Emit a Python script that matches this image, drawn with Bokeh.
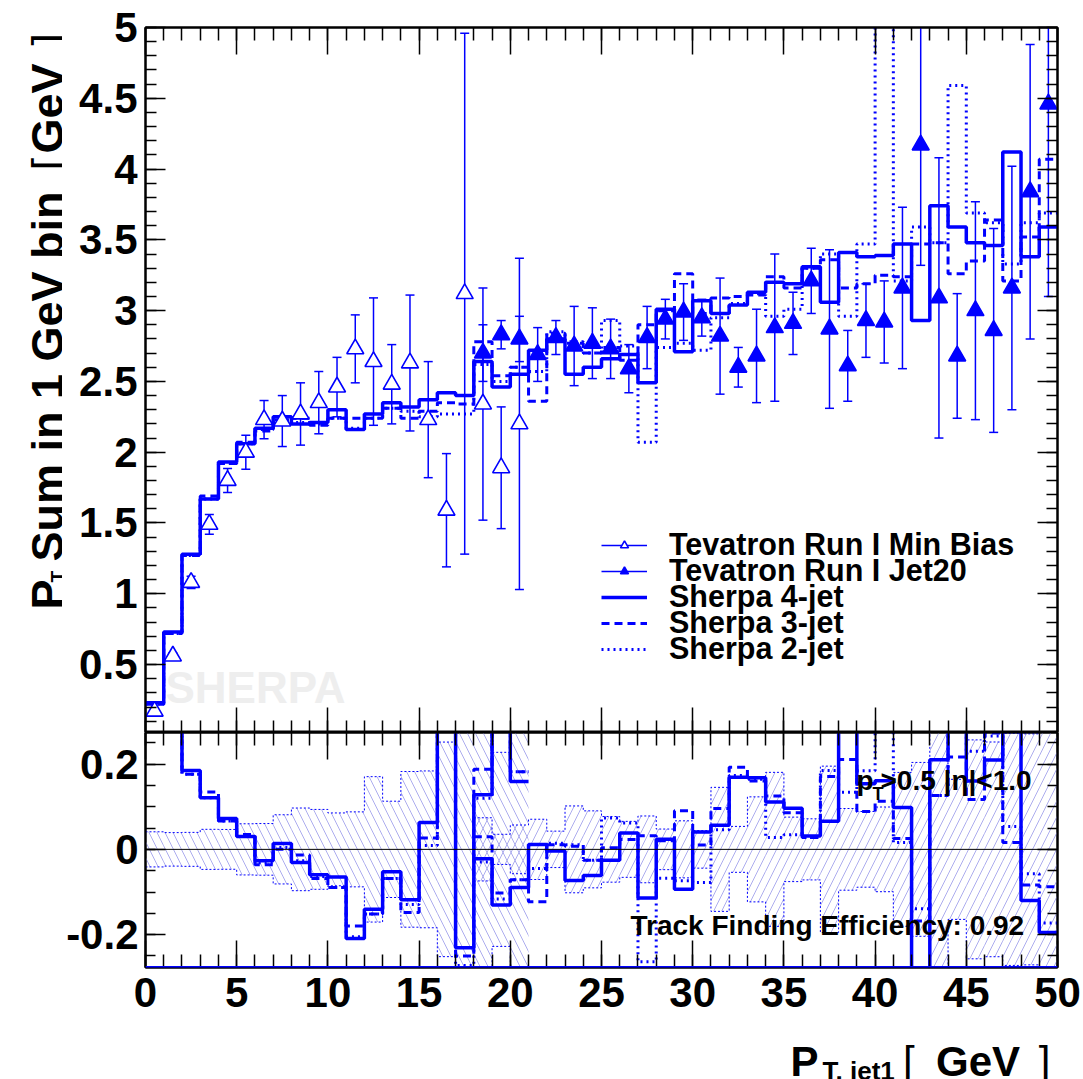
import numpy as np
from bokeh.plotting import figure
from bokeh.models import (ColumnDataSource, LinearAxis, Range1d, FixedTicker,
                          CustomJSTickFormatter, Whisker, TeeHead, Legend, LegendItem,
                          Label, Span)
from bokeh.layouts import column, row
from bokeh.core.properties import value
from bokeh.embed import file_html
from bokeh.resources import INLINE

# ---------------- data ----------------
bin_edges = list(range(0, 51))

minbias_x = [i + 0.5 for i in range(0, 21)]
minbias_y = [0.17, 0.56, 1.08, 1.49, 1.80, 2.00, 2.23, 2.22, 2.27, 2.35,
             2.46, 2.73, 2.64, 2.48, 2.63, 2.23, 1.59, 3.12, 2.34, 1.89, 2.20]
minbias_err = [0.007, 0.022, 0.043, 0.07, 0.084, 0.12, 0.135, 0.18, 0.22, 0.22,
               0.21, 0.24, 0.45, 0.28, 0.48, 0.41, 0.40, 1.84, 0.82, 0.43, 1.17]

jet20_x = [i + 0.5 for i in range(18, 50)]
jet20_y = [2.70, 2.83, 2.80, 2.69, 2.81, 2.75, 2.77, 2.73, 2.59, 2.81,
           2.94, 2.99, 2.95, 2.82, 2.60, 2.68, 2.88, 2.91, 3.21, 2.87,
           2.61, 2.93, 2.92, 3.16, 4.17, 3.09, 2.68, 3.00, 2.86, 3.16,
           3.84, 4.46]
jet20_err = [0.20, 0.10, 0.16, 0.19, 0.12, 0.28, 0.25, 0.21, 0.17, 0.22,
             0.14, 0.20, 0.13, 0.41, 0.14, 0.33, 0.52, 0.22, 0.23, 0.56,
             0.25, 0.26, 0.29, 0.57, 0.85, 0.99, 0.44, 0.77, 0.72, 0.86,
             1.04, 1.36]

sherpa4 = [0.23, 0.73, 1.28, 1.67, 1.93, 2.06, 2.17, 2.25, 2.20, 2.21,
           2.30, 2.16, 2.27, 2.35, 2.32, 2.37, 2.42, 2.40, 2.64, 2.46,
           2.55, 2.72, 2.80, 2.55, 2.60, 2.66, 2.69, 2.49, 3.01, 2.71,
           3.07, 2.98, 3.04, 3.13, 3.20, 3.19, 3.31, 3.06, 3.41, 3.38,
           3.39, 3.47, 2.93, 3.74, 3.59, 3.48, 3.46, 4.12, 3.38, 3.59]
sherpa3 = [0.22, 0.72, 1.27, 1.69, 1.92, 2.07, 2.15, 2.22, 2.24, 2.19,
           2.24, 2.24, 2.24, 2.31, 2.24, 2.29, 2.35, 2.34, 2.78, 2.54,
           2.60, 2.36, 2.84, 2.77, 2.70, 2.74, 2.65, 2.90, 3.00, 3.26,
           2.98, 3.09, 3.10, 3.11, 3.24, 3.16, 3.30, 3.36, 3.16, 3.19,
           3.25, 3.24, 3.47, 3.48, 3.26, 3.35, 3.64, 3.21, 3.52, 4.07]
sherpa2 = [0.22, 0.72, 1.27, 1.67, 1.92, 2.06, 2.16, 2.23, 2.21, 2.20,
           2.24, 2.17, 2.24, 2.31, 2.29, 2.25, 2.27, 2.27, 2.62, 2.50,
           2.60, 2.57, 2.85, 2.78, 2.70, 2.93, 2.75, 2.07, 2.74, 2.77,
           2.72, 2.95, 3.05, 3.12, 2.96, 3.01, 3.30, 3.40, 2.96, 3.47,
           5.60, 3.21, 3.59, 3.48, 4.59, 3.69, 3.62, 3.33, 3.62, 3.69]

x_ticks = [0, 5, 10, 15, 20, 25, 30, 35, 40, 45, 50]
y_ticks_main = [0.5, 1, 1.5, 2, 2.5, 3, 3.5, 4, 4.5, 5]
y_ticks_ratio = [-0.2, 0, 0.2]

series_labels = ["Tevatron Run I Min Bias", "Tevatron Run I Jet20",
                 "Sherpa 4-jet", "Sherpa 3-jet", "Sherpa 2-jet"]

# ---------------- style ----------------
FONT = "Liberation Sans"
BLUE = "#0000ff"
HATCH = "#a4a4ec"

edges = np.array(bin_edges, dtype=float)
mb_y = np.array(minbias_y); mb_e = np.array(minbias_err)
jt_y = np.array(jet20_y); jt_e = np.array(jet20_err)
mc = {"4": np.array(sherpa4), "3": np.array(sherpa3), "2": np.array(sherpa2)}
mc_style = {"4": dict(line_width=3.5, line_dash="solid"),
            "3": dict(line_width=3, line_dash="8 5"),
            "2": dict(line_width=3, line_dash="2 4")}

n_mb = len(minbias_y)
jt_first = int(jet20_x[0] - 0.5)


def steps(e, v):
    return np.repeat(e, 2)[1:-1], np.repeat(v, 2)


fmt = CustomJSTickFormatter(code="return String(Math.round(tick*100)/100)")


def add_axis(fig, side, ticks, minor, t_in, m_in, labels, standoff=8):
    ax = LinearAxis(ticker=FixedTicker(ticks=ticks, minor_ticks=minor),
                    formatter=fmt,
                    axis_line_color="black", axis_line_width=2,
                    major_tick_line_color="black", major_tick_line_width=1.5,
                    minor_tick_line_color="black", minor_tick_line_width=1.5,
                    major_tick_in=t_in, major_tick_out=0,
                    minor_tick_in=m_in, minor_tick_out=0)
    if labels:
        ax.major_label_text_font = FONT
        ax.major_label_text_font_style = "bold"
        ax.major_label_text_font_size = "42px"
        ax.major_label_text_color = "black"
        ax.major_label_standoff = standoff
    else:
        ax.major_label_text_font_size = "0px"
        ax.major_label_standoff = 0
    fig.add_layout(ax, side)


def style_fig(fig):
    fig.grid.visible = False
    fig.outline_line_color = "black"
    fig.outline_line_width = 2
    fig.background_fill_color = "white"
    fig.border_fill_color = "white"


x_minor = list(range(0, 51))
y_minor_main = [round(0.1 * k, 2) for k in range(1, 51)]
y_minor_ratio = [round(-0.25 + 0.05 * k, 2) for k in range(0, 11)]

LEFT = 83  # left border of the two panels (title strip is 62 px wide)

# ---------------- main panel ----------------
p1 = figure(frame_width=912, frame_height=705, x_range=Range1d(0, 50), y_range=Range1d(0.02, 5),
            output_backend="svg", toolbar_location=None,
            x_axis_location=None, y_axis_location=None,
            min_border_left=LEFT, min_border_right=26, min_border_top=27, min_border_bottom=0)
style_fig(p1)

add_axis(p1, "left", y_ticks_main, y_minor_main, 20, 11, True, 8)
add_axis(p1, "right", y_ticks_main, y_minor_main, 20, 11, False)
add_axis(p1, "above", x_ticks, x_minor, 27, 13, False)
add_axis(p1, "below", x_ticks, x_minor, 25, 12, False)

p1.add_layout(Label(x=20, y=21, x_units="screen", y_units="screen", text="SHERPA",
                    text_font=FONT, text_font_style="bold", text_font_size="44px",
                    text_color="#eeeeee"))

mc_r = {}
for k in ["2", "3", "4"]:
    xs, ys = steps(edges, mc[k])
    mc_r[k] = p1.line(xs, ys, line_color=BLUE, **mc_style[k])


def data_series(fig, x, y, e, filled):
    src = ColumnDataSource(dict(x=x, y=y, lo=list(np.array(y) - np.array(e)),
                                hi=list(np.array(y) + np.array(e))))
    seg = fig.segment(x0="x", y0="lo", x1="x", y1="hi", source=src,
                      line_color=BLUE, line_width=1.5)
    fig.add_layout(Whisker(source=src, base="x", upper="hi", lower="lo",
                           dimension="height", line_alpha=0,
                           upper_head=TeeHead(size=9, line_color=BLUE, line_width=1.5),
                           lower_head=TeeHead(size=9, line_color=BLUE, line_width=1.5)))
    sc = fig.scatter("x", "y", source=src, marker="triangle", size=17,
                     line_color=BLUE, line_width=1.6,
                     fill_color=BLUE if filled else "white")
    return seg, sc


mb_seg, mb_sc = data_series(p1, minbias_x, minbias_y, minbias_err, False)
jt_seg, jt_sc = data_series(p1, jet20_x, jet20_y, jet20_err, True)

# legend: one entry per Legend so that the row pitch can be tight (26 px)
legend_entries = [
    (series_labels[0], [mb_seg, mb_sc]),
    (series_labels[1], [jt_seg, jt_sc]),
    (series_labels[2], [mc_r["4"]]),
    (series_labels[3], [mc_r["3"]]),
    (series_labels[4], [mc_r["2"]]),
]
ROW0, PITCH = 170, 26
for i, (lbl, rends) in enumerate(legend_entries):
    p1.add_layout(Legend(
        items=[LegendItem(label=lbl, renderers=rends)],
        location=(456, ROW0 - i * PITCH), orientation="vertical",
        label_text_font=FONT, label_text_font_style="bold", label_text_font_size="30.5px",
        label_text_color="black", label_standoff=22, glyph_width=46, glyph_height=20,
        spacing=0, padding=0, margin=0, border_line_alpha=0, background_fill_alpha=0))

# ---------------- ratio panel ----------------
p2 = figure(frame_width=912, frame_height=235, x_range=p1.x_range, y_range=Range1d(-0.277, 0.274),
            output_backend="svg", toolbar_location=None,
            x_axis_location=None, y_axis_location=None,
            min_border_left=LEFT, min_border_right=26, min_border_top=0, min_border_bottom=62)
style_fig(p2)

add_axis(p2, "left", y_ticks_ratio, y_minor_ratio, 20, 10, True, 7)
add_axis(p2, "right", y_ticks_ratio, y_minor_ratio, 20, 10, False)
add_axis(p2, "above", x_ticks, x_minor, 27, 13, False)
add_axis(p2, "below", x_ticks, x_minor, 27, 13, True, 10)

bands = [
    (edges[0:n_mb + 1], mb_y, mb_e, 0, "left_diagonal_line"),
    (edges[jt_first:jt_first + len(jet20_y) + 1], jt_y, jt_e, jt_first, "right_diagonal_line"),
]
for e, y, err, first, pat in bands:
    rel = err / y
    p2.quad(left=e[:-1], right=e[1:], bottom=-rel, top=rel, fill_color=None,
            line_color=None, hatch_pattern=pat, hatch_color=HATCH,
            hatch_scale=16, hatch_weight=0.9)
    for sgn in (1, -1):
        xs, ys = steps(e, sgn * rel)
        p2.line(xs, ys, line_color=BLUE, line_width=1, line_dash="2 2")

p2.add_layout(Span(location=0, dimension="width", line_color="black", line_width=1))

for e, y, err, first, pat in bands:
    for k in ["2", "3", "4"]:
        m = mc[k][first:first + len(y)]
        xs, ys = steps(e, (m - y) / y)
        p2.line(xs, ys, line_color=BLUE, **mc_style[k])

p2.add_layout(Span(location=p2.y_range.start, dimension="width", line_color=BLUE,
                   line_width=3))


def lab(fig, x, y, text, size, bold=True):
    fig.add_layout(Label(x=x, y=y, x_units="screen", y_units="screen", text=text,
                         text_font=FONT, text_font_style="bold" if bold else "normal",
                         text_font_size=size, text_color="black",
                         text_baseline="alphabetic", text_align="left"))


lab(p2, 485, 42, "Track Finding Efficiency: 0.92", "28px")
lab(p2, 711, 187, "p", "28px")
lab(p2, 727, 174, "T", "18px")
lab(p2, 735, 187, ">0.5 |\u03b7|<1.0", "28px")


# ---------------- axis titles (drawn as text on plain strips) ----------------
def strip(w, h):
    f = figure(width=w, height=h, x_range=Range1d(0, w), y_range=Range1d(0, h),
               output_backend="svg", toolbar_location=None,
               x_axis_location=None, y_axis_location=None, min_border=0)
    f.grid.visible = False
    f.outline_line_color = None
    f.background_fill_color = "white"
    f.border_fill_color = "white"
    return f


def txt(f, x, y, text, size, bold=True, angle=0.0):
    f.text(x=[x], y=[y], text=[text], angle=angle, text_font=value(FONT),
           text_font_size=size, text_font_style="bold" if bold else "normal",
           text_color="black", text_baseline="alphabetic", text_align="left")


H_TOTAL = 1079
yt = strip(62, H_TOTAL)
A = np.pi / 2
txt(yt, 47, H_TOTAL - 609, "P", "45px", True, A)
txt(yt, 57, H_TOTAL - 582, "T", "19px", True, A)
txt(yt, 47, H_TOTAL - 561, "Sum in 1 GeV bin", "45px", True, A)
txt(yt, 47, H_TOTAL - 170, "[", "45px", False, A)
txt(yt, 47, H_TOTAL - 153, "GeV", "45px", True, A)
txt(yt, 47, H_TOTAL - 45, "]", "45px", False, A)

xt = strip(1021, 50)
txt(xt, 722, 18, "P", "42px")
txt(xt, 758, 9, "T, jet1", "26px")
txt(xt, 848, 18, "[", "42px", False)
txt(xt, 885, 18, "GeV", "42px")
txt(xt, 1000, 18, "]", "42px", False)

layout = row(yt, column(p1, p2, xt, spacing=0), spacing=0)
open("out.html", "w").write(file_html(layout, INLINE))
